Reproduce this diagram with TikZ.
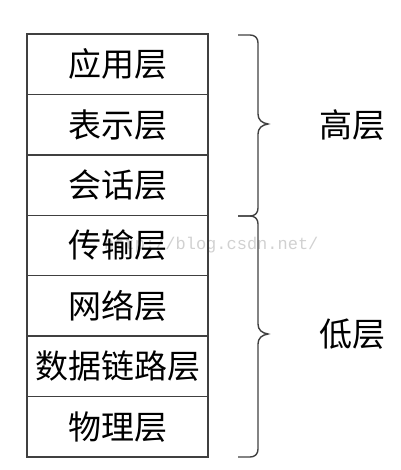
\documentclass[tikz,border=0pt]{standalone}
\usepackage{fontspec}
\newfontfamily\cjk{Noto Sans CJK SC}
\setmonofont{Liberation Mono}
\tikzset{
  layer/.style={draw=black!75, line width=1.4pt, minimum width=181pt, minimum height=60.43pt,
    inner sep=0pt, outer sep=0pt, anchor=north, font=\cjk\fontsize{33}{33}\selectfont},
  grouplabel/.style={font=\cjk\fontsize{33}{33}\selectfont, inner sep=0pt},
  bracepath/.style={draw=black!75, line width=1.4pt},
  watermark/.style={text=black!18, font=\ttfamily\fontsize{17}{17}\selectfont, inner sep=0pt, anchor=west}
}
\begin{document}
\begin{tikzpicture}[x=1pt,y=-1pt]
\useasboundingbox (0,0) rectangle (400,470);
\node[watermark] (wm) at (104,245) {http://blog.csdn.net/};
\node[layer] (l1) at (117.5,34) {应用层};
\node[layer] (l2) at (l1.south) {表示层};
\node[layer] (l3) at (l2.south) {会话层};
\node[layer] (l4) at (l3.south) {传输层};
\node[layer] (l5) at (l4.south) {网络层};
\node[layer] (l6) at (l5.south) {数据链路层};
\node[layer] (l7) at (l6.south) {物理层};
% braces
\coordinate (bt) at (238,35);
\coordinate (bm) at (238,216);
\coordinate (bb) at (238,457);
\draw[bracepath] (bt) -- (250,35) .. controls (255,35) and (258,38) .. (258,43) -- (258,114)
  .. controls (258,120) and (262,123) .. (268,124)
  .. controls (262,125) and (258,128) .. (258,134) -- (258,208)
  .. controls (258,213) and (255,216) .. (250,216) -- (bm);
\draw[bracepath] (bm) -- (250,216) .. controls (255,216) and (258,219) .. (258,224) -- (258,324)
  .. controls (258,330) and (262,333) .. (268,334)
  .. controls (262,335) and (258,338) .. (258,344) -- (258,449)
  .. controls (258,454) and (255,457) .. (250,457) -- (bb);
\node[grouplabel] (high) at (352,125) {高层};
\node[grouplabel] (low) at (352,334) {低层};
\end{tikzpicture}
\end{document}
